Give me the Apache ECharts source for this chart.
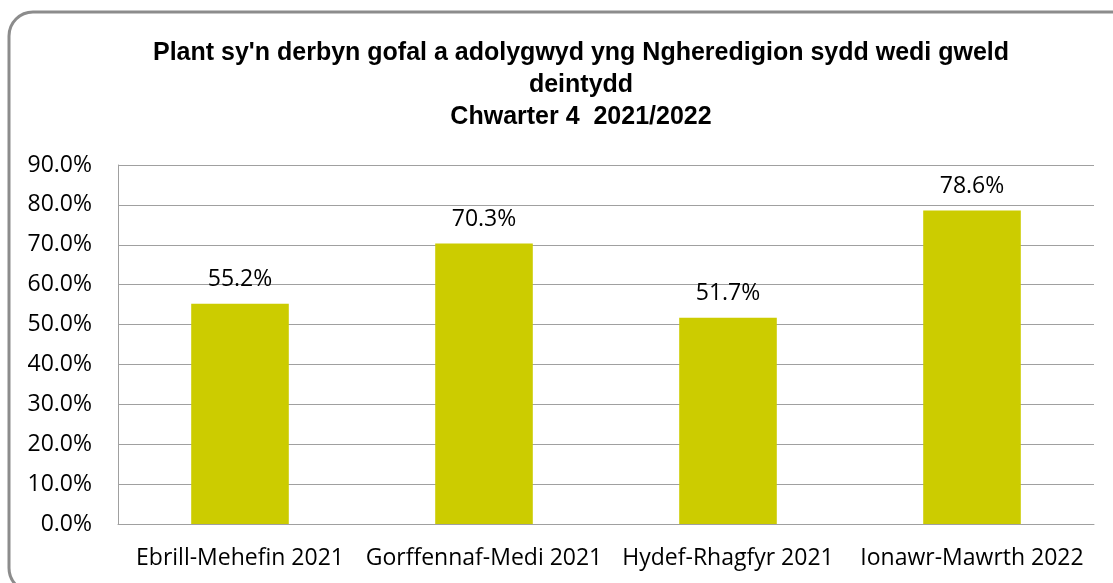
<!DOCTYPE html>
<html>
<head>
<meta charset="utf-8">
<script src="https://cdn.jsdelivr.net/npm/echarts@6/dist/echarts.min.js"></script>
<style>
  html, body { margin: 0; padding: 0; background: #fff; }
  #chart { width: 1113px; height: 583px; }
</style>
</head>
<body>
<div id="chart"></div>
<script>
// data
var categories = ['Ebrill-Mehefin 2021', 'Gorffennaf-Medi 2021', 'Hydef-Rhagfyr 2021', 'Ionawr-Mawrth 2022'];
var values = [55.2, 70.3, 51.7, 78.6];
var titleLines = [
  "Plant sy'n derbyn gofal a adolygwyd yng Ngheredigion sydd wedi gweld",
  'deintydd',
  'Chwarter 4  2021/2022'
];

var chart = echarts.init(document.getElementById('chart'));
var labelFont = '"Open Sans", "Noto Sans", sans-serif';

chart.setOption({
  animation: false,
  title: {
    text: titleLines.join('\n'),
    left: 576,
    top: 32,
    textAlign: 'center',
    textStyle: {
      fontFamily: '"Liberation Sans Narrow", "Liberation Sans", Arial, sans-serif',
      fontWeight: 'bold',
      fontSize: 25,
      lineHeight: 32,
      color: '#000'
    }
  },
  graphic: [{
    type: 'rect',
    shape: { x: 9, y: 12, width: 1130, height: 580, r: 24 },
    style: { fill: 'none', stroke: '#8c8c8c', lineWidth: 3 },
    silent: true,
    z: -1
  }],
  grid: { left: 118, right: 19, top: 165, bottom: 59 },
  xAxis: {
    type: 'category',
    data: categories,
    axisLine: { lineStyle: { color: '#a0a0a0', width: 1 } },
    axisTick: { show: false },
    axisLabel: {
      fontFamily: labelFont,
      fontSize: 23,
      color: '#000',
      margin: 23,
      interval: 0
    }
  },
  yAxis: {
    type: 'value',
    min: 0,
    max: 90,
    interval: 10,
    axisLine: { show: true, lineStyle: { color: '#a0a0a0', width: 1 } },
    axisTick: { show: false },
    splitLine: { lineStyle: { color: '#a0a0a0', width: 1 } },
    axisLabel: {
      fontFamily: labelFont,
      fontSize: 23,
      color: '#000',
      margin: 26,
      formatter: function (v) { return v.toFixed(1) + '%'; }
    }
  },
  series: [{
    type: 'bar',
    data: values,
    barWidth: '40%',
    itemStyle: { color: '#cccc00' },
    label: {
      show: true,
      position: 'top',
      distance: 13,
      fontFamily: labelFont,
      fontSize: 23,
      color: '#000',
      formatter: function (p) { return p.value.toFixed(1) + '%'; }
    }
  }]
});
</script>
</body>
</html>
